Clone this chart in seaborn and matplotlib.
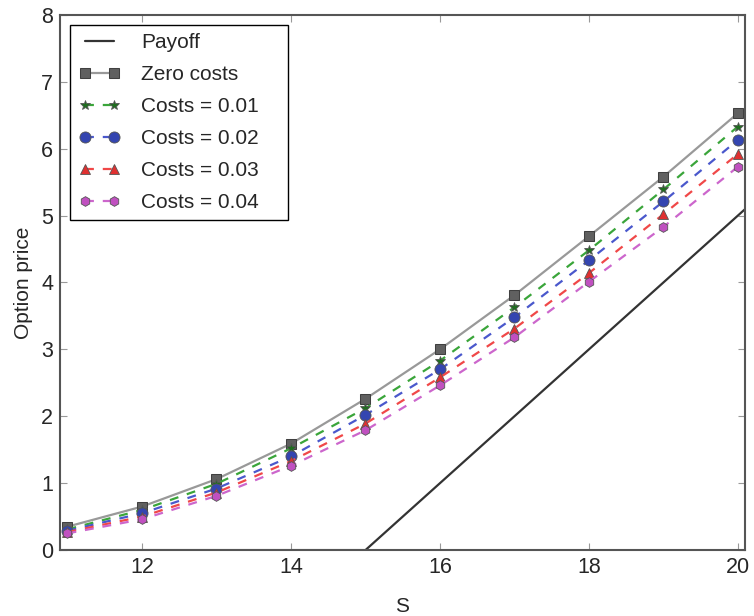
import numpy as np
import pandas as pd
import matplotlib
matplotlib.use('Agg')
import matplotlib.pyplot as plt
import seaborn as sns

# spot prices and option values
S = [11, 12, 13, 14, 15, 16, 17, 18, 19, 20]
zero_costs = [0.35, 0.65, 1.06, 1.59, 2.26, 3.00, 3.81, 4.69, 5.58, 6.53]
costs_001 = [0.31, 0.60, 0.99, 1.52, 2.12, 2.83, 3.63, 4.48, 5.39, 6.33]
costs_002 = [0.29, 0.55, 0.92, 1.40, 2.02, 2.70, 3.48, 4.33, 5.21, 6.13]
costs_003 = [0.27, 0.50, 0.86, 1.33, 1.89, 2.58, 3.31, 4.14, 5.02, 5.92]
costs_004 = [0.25, 0.46, 0.81, 1.26, 1.79, 2.46, 3.18, 4.01, 4.83, 5.73]

payoff_S = [10.9, 15.0, 20.1]
payoff_val = [0.0, 0.0, 5.1]

sns.set_style('ticks')
plt.rcParams['font.family'] = ['Liberation Sans', 'DejaVu Sans']
plt.rcParams['xtick.direction'] = 'in'
plt.rcParams['ytick.direction'] = 'in'
plt.rcParams['xtick.top'] = True
plt.rcParams['ytick.right'] = True

fig = plt.figure(figsize=(7.54, 6.16), dpi=100)
ax = fig.add_axes([0.0796, 0.107, 0.908, 0.869])

sns.lineplot(x=payoff_S, y=payoff_val, ax=ax, color='#333333', lw=1.6,
             label='Payoff')
sns.lineplot(x=S, y=zero_costs, ax=ax, color='#999999', lw=1.6, marker='s',
             markersize=7, markerfacecolor='#606060', markeredgecolor='#404040',
             label='Zero costs')

series = [
    (costs_001, 'Costs = 0.01', '#3aa53a', '*', '#1f6e1f', 7.5),
    (costs_002, 'Costs = 0.02', '#4a58cc', 'o', '#3445b0', 8),
    (costs_003, 'Costs = 0.03', '#f04848', '^', '#e03030', 7.5),
    (costs_004, 'Costs = 0.04', '#cc66cc', 'h', '#c050c0', 7),
]
for vals, lab, col, mk, mcol, ms in series:
    sns.lineplot(x=S, y=vals, ax=ax, color=col, lw=1.6,
                 linestyle=(0, (4, 4)), marker=mk, markersize=ms,
                 markerfacecolor=mcol, markeredgecolor='#555555',
                 markeredgewidth=0.6, label=lab)

ax.set_xlim(10.9, 20.09)
ax.set_ylim(0, 8)
ax.set_xticks([12, 14, 16, 18, 20])
ax.set_yticks(range(0, 9))
ax.tick_params(labelsize=15.5, length=5, width=0.8, color='#999999', pad=5)
for sp in ax.spines.values():
    sp.set_color('#555555')
    sp.set_linewidth(1.5)

ax.set_xlabel('S', fontsize=15, labelpad=14)
ax.set_ylabel('Option price', fontsize=15, labelpad=6)

# legend box stretched to the width seen in the original
leg = ax.legend(loc='upper left', bbox_to_anchor=(0.0146, 0.613, 0.318, 0.368),
                mode='expand', borderaxespad=0, fontsize=15, numpoints=2,
                fancybox=False, framealpha=1, edgecolor='black',
                handlelength=2.0, handletextpad=1.0, labelspacing=0.62)
leg.get_frame().set_linewidth(1.0)

fig.savefig('out.png', dpi=100)
